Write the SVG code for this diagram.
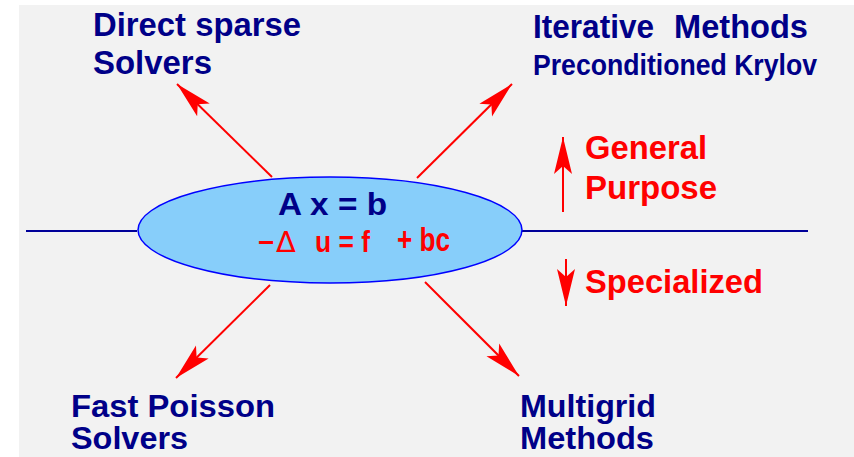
<svg xmlns="http://www.w3.org/2000/svg" width="854" height="457" viewBox="0 0 854 457">
<style>
.lbl{font-family:"Liberation Sans",Arial,sans-serif;font-weight:bold;fill:#000088}
.red{font-family:"Liberation Sans",Arial,sans-serif;font-weight:bold;fill:#ff0000}
.arr{stroke:#ff0000;stroke-width:2;fill:none;marker-end:url(#ah)}
.axis{stroke:#000099;stroke-width:2.2}
</style>
<defs>
<marker id="ah" markerUnits="userSpaceOnUse" markerWidth="50" markerHeight="30" viewBox="-40 -15 50 30" refX="0" refY="0" orient="auto" overflow="visible">
<path d="M0,0 L-37,-9 L-29,0 L-37,9 Z" fill="#ff0000"/>
</marker>
</defs>
<rect x="0" y="0" width="854" height="457" fill="#ffffff"/>
<rect x="19" y="5" width="835" height="452" fill="#f2f2f2"/>
<g id="connectors">
<line class="axis" x1="26" y1="231" x2="137" y2="231"/>
<line class="axis" x1="522" y1="231" x2="808" y2="231"/>
<line class="arr" x1="272" y1="177" x2="177" y2="84"/>
<line class="arr" x1="417" y1="178" x2="512" y2="84"/>
<line class="arr" x1="270" y1="285" x2="176" y2="378"/>
<line class="arr" x1="425" y1="282" x2="519" y2="376"/>
<line class="arr" x1="563" y1="212" x2="563" y2="137"/>
<line class="arr" x1="566" y1="259" x2="566" y2="306"/>
</g>
<g id="center">
<ellipse cx="330" cy="230" rx="192" ry="53" fill="#87cefa" stroke="#0000ff" stroke-width="1.5"/>
<text class="lbl" x="278" y="215" font-size="31" textLength="109" lengthAdjust="spacingAndGlyphs">A x = b</text>
<text class="red" x="258" y="252" font-size="28">−</text>
<text x="276" y="252" font-size="29" fill="#ff0000" font-family="'DejaVu Sans','Liberation Sans',sans-serif">Δ</text>
<text class="red" x="315" y="252" font-size="30" textLength="55" lengthAdjust="spacingAndGlyphs">u = f</text>
<text class="red" x="397" y="251" font-size="33" textLength="53" lengthAdjust="spacingAndGlyphs">+ bc</text>
</g>
<g id="direct">
<text class="lbl" x="93" y="36" font-size="33" textLength="208" lengthAdjust="spacingAndGlyphs">Direct sparse</text>
<text class="lbl" x="93" y="74" font-size="33" textLength="119" lengthAdjust="spacingAndGlyphs">Solvers</text>
</g>
<g id="iterative">
<text class="lbl" x="533" y="38" font-size="33" textLength="121" lengthAdjust="spacingAndGlyphs">Iterative</text>
<text class="lbl" x="674" y="38" font-size="33" textLength="134" lengthAdjust="spacingAndGlyphs">Methods</text>
<text class="lbl" x="533" y="75" font-size="30" textLength="284" lengthAdjust="spacingAndGlyphs">Preconditioned Krylov</text>
</g>
<g id="general">
<text class="red" x="585" y="159" font-size="33" textLength="122" lengthAdjust="spacingAndGlyphs">General</text>
<text class="red" x="585" y="199" font-size="33" textLength="132" lengthAdjust="spacingAndGlyphs">Purpose</text>
</g>
<g id="specialized">
<text class="red" x="585" y="293" font-size="33" textLength="178" lengthAdjust="spacingAndGlyphs">Specialized</text>
</g>
<g id="poisson">
<text class="lbl" x="71" y="417" font-size="32" textLength="204" lengthAdjust="spacingAndGlyphs">Fast Poisson</text>
<text class="lbl" x="71" y="449" font-size="31" textLength="117" lengthAdjust="spacingAndGlyphs">Solvers</text>
</g>
<g id="multigrid">
<text class="lbl" x="520" y="417" font-size="32" textLength="136" lengthAdjust="spacingAndGlyphs">Multigrid</text>
<text class="lbl" x="520" y="449" font-size="31" textLength="134" lengthAdjust="spacingAndGlyphs">Methods</text>
</g>
</svg>
